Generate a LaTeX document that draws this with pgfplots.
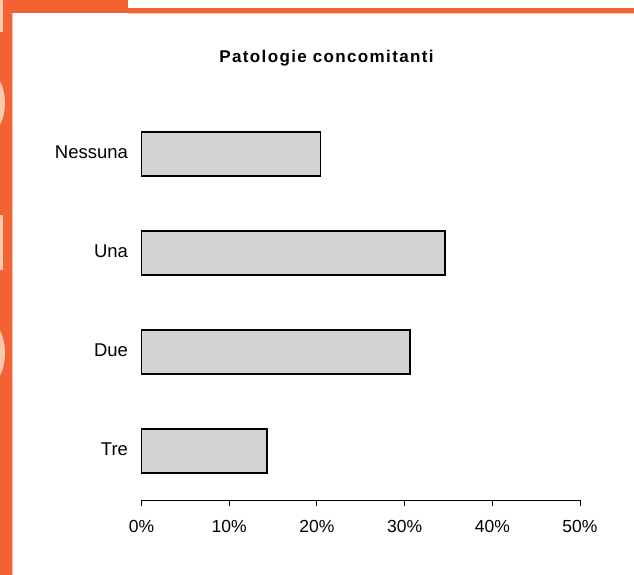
\documentclass[border=0pt]{standalone}
\usepackage{fontspec}
\setmainfont{Liberation Sans}
\usepackage{pgfplots}
\pgfplotsset{compat=1.18}
\definecolor{frameorange}{HTML}{F26232}
\definecolor{framepale}{HTML}{FCC9AE}
\definecolor{barfill}{HTML}{D3D3D3}

\begin{document}
\begin{tikzpicture}[x=1bp,y=1bp]
\useasboundingbox (0,0) rectangle (634,575);
\fill[white] (0,0) rectangle (634,575);
% slide frame
\fill[frameorange] (0,0) rectangle (11.5,575);
\fill[frameorange] (0,562) rectangle (128,575);
\fill[frameorange] (0,562) rectangle (634,567);
\fill[framepale] (11.5,0) rectangle (12.2,562);
\fill[framepale] (128,561.3) rectangle (634,562);
\begin{scope}
  \clip (0,0) rectangle (4.8,575);
  \fill[framepale] (0,543) rectangle (3,575);
  \fill[framepale] (-18,472) ellipse (23 and 35);
  \fill[framepale] (0,305) rectangle (3,360);
  \fill[framepale] (-18,222) ellipse (23 and 36);
\end{scope}

\node[anchor=base, font=\fontsize{17bp}{20bp}\selectfont\bfseries\addfontfeature{LetterSpace=8}]
  at (326.5,512.3) {Patologie concomitanti};

\begin{axis}[
  at={(141.5bp,75bp)}, anchor=south west,
  scale only axis,
  width=438.5bp, height=405.4bp,
  xmin=0, xmax=50, ymin=-0.495, ymax=3.6,
  xbar, bar width=44bp,
  axis x line=bottom, axis y line=left,
  axis line style={-, line width=0.9bp},
  y axis line style={draw=none},
  tick align=outside,
  major tick length=6bp,
  /pgf/number format/assume math mode=true,
  xtick={0,10,20,30,40,50},
  xticklabel={\pgfmathprintnumber{\tick}\%},
  xtick style={line width=0.9bp, black},
  ytick={0,1,2,3},
  yticklabels={Tre,Due,Una,Nessuna},
  ytick style={draw=none},
  xticklabel style={font=\fontsize{17.5bp}{20bp}\selectfont, yshift=-11bp},
  yticklabel style={font=\fontsize{18.5bp}{21bp}\selectfont, xshift=-4bp, yshift=1.5bp},
  clip=false,
]
\addplot[fill=barfill, draw=black, line width=1.3bp]
  coordinates {(14.3,0) (30.6,1) (34.6,2) (20.4,3)};
\end{axis}
\end{tikzpicture}
\end{document}
